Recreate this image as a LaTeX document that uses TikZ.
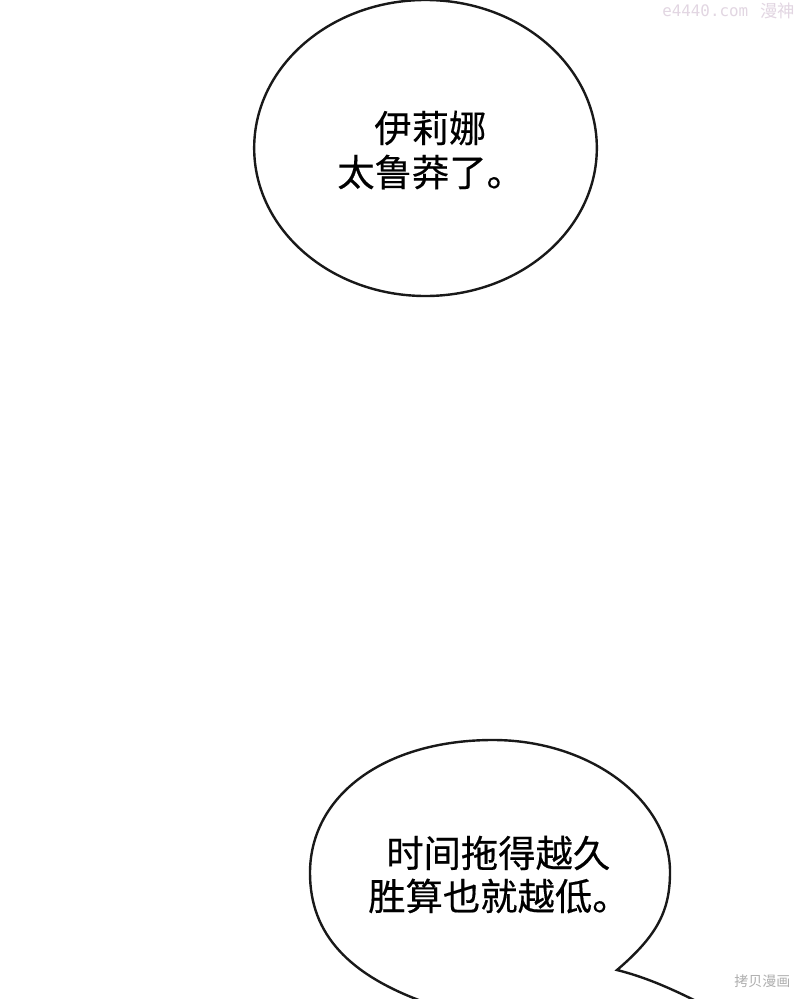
\documentclass[tikz,border=0pt]{standalone}
\usepackage{fontspec}
\usetikzlibrary{shapes.geometric}
\newfontfamily\cjk[FakeBold=0.35]{Noto Sans CJK SC}
\newfontfamily\cjkl{Noto Sans CJK SC}
\setmonofont{DejaVu Sans Mono}
\definecolor{wmtop}{RGB}{226,214,226}
\definecolor{wmbot}{RGB}{175,175,175}
\tikzset{
  x=0.75pt,y=-0.75pt,
  bubble/.style={draw=black!90,line width=1.8pt},
  speech/.style={font=\cjk\fontsize{28}{34}\selectfont,text=black,inner sep=0pt,anchor=west},
}
\begin{document}
\begin{tikzpicture}
\useasboundingbox (0,0) rectangle (800,999);
\fill[white] (0,0) rectangle (800,999);
\node[bubble,ellipse,minimum width=257pt,minimum height=222pt,inner sep=0pt] (b1) at (425.5,148) {};
\begin{scope}
\clip (0,0) rectangle (800,999);
\draw[bubble,line join=miter] (424,1002) .. controls (350,975) and (310,935) .. (310,873)
  .. controls (310,795) and (385,740) .. (493,740)
  .. controls (590,740) and (670,800) .. (670,872)
  .. controls (670,910) and (658,935) .. (617,970)
  .. controls (645,977) and (670,988) .. (698,1002);
\end{scope}
\node[speech] (t1) at (374,128) {伊莉娜};
\node[speech] (t2) at (337,172) {太鲁莽了。};
\node[speech] (t3) at (386,853) {时间拖得越久};
\node[speech] (t4) at (368,896) {胜算也就越低。};
\node[font=\ttfamily\fontsize{11.9}{12}\selectfont,text=wmtop,inner sep=0pt,anchor=west] (w1) at (662,11) {e4440.com};
\node[font=\cjkl\fontsize{13}{14}\selectfont,text=wmtop,inner sep=0pt,anchor=west] (w2) at (760,11) {漫神};
\node[font=\cjkl\fontsize{10.5}{12}\selectfont,text=wmbot,inner sep=0pt,anchor=west] (w3) at (734,981) {拷贝漫画};
\end{tikzpicture}
\end{document}
